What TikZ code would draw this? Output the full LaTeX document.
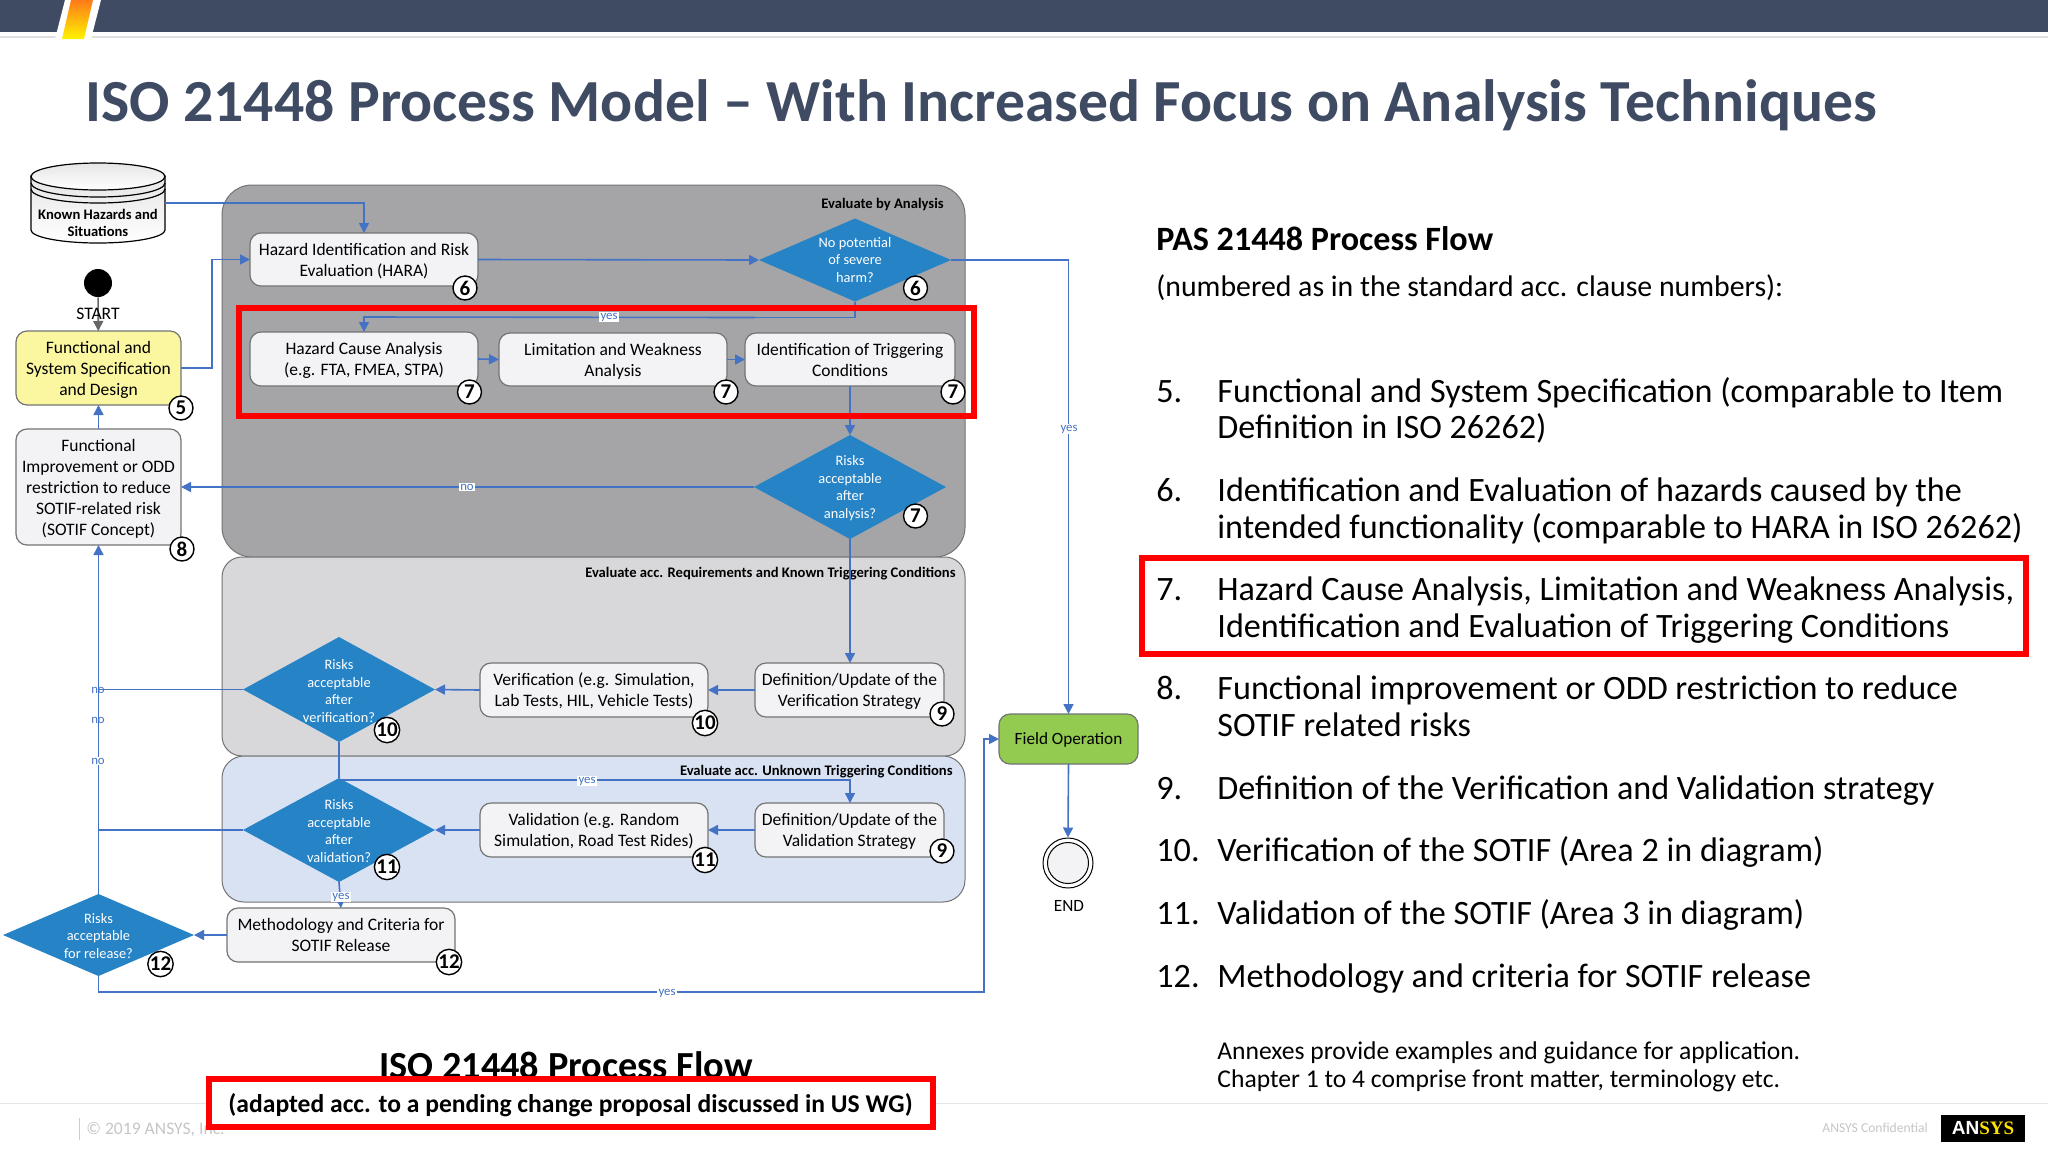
\documentclass[tikz,border=0pt]{standalone}
\usepackage{fontspec}
\setmainfont{Carlito}
\newfontfamily\lsans{Liberation Sans}
\newfontfamily\lserif{Liberation Serif}
\usetikzlibrary{arrows.meta,shapes.geometric,calc}
\definecolor{barblue}{HTML}{3F4B63}
\definecolor{link}{HTML}{4472C4}
\definecolor{dia}{HTML}{2683C6}
\definecolor{pone}{HTML}{A5A5A7}
\definecolor{ptwo}{HTML}{D8D8DA}
\definecolor{pthree}{HTML}{D9E2F3}
\definecolor{boxfill}{HTML}{F3F3F6}
\definecolor{specfill}{HTML}{FBF7A0}
\definecolor{fieldfill}{HTML}{92CB4F}
\definecolor{rgrey}{HTML}{C6C6C6}
\newcommand{\fs}[2]{\fontsize{#1}{#2}\selectfont}
\newcommand{\bx}[7]{\node[#6,minimum width={(#4-#2)*0.5pt},minimum height={(#5-#3)*0.5pt}] (#1) at ({(#2+#4)/2},{(#3+#5)/2}) {#7};}
\newcommand{\lst}[3]{\node[listtext,anchor=north west] (n#2) at (1156,#1) {\strut #2};
  \node[listtext,anchor=north west] (t#2) at (1217,#1) {#3};}
\tikzset{
  x=0.5pt,y=-0.5pt,
  panel/.style={draw=black!55,line width=0.5pt,inner sep=0,outer sep=0},
  pbox/.style={rectangle,rounded corners=5.5pt,draw=black!55,line width=0.6pt,fill=boxfill,align=center,inner sep=0,outer sep=0,text depth=0pt,font=\fs{8.75}{10.5}},
  specbox/.style={pbox,fill=specfill},
  fieldbox/.style={pbox,fill=fieldfill,font=\fs{8.6}{10.5}},
  diam/.style={diamond,fill=dia,draw=none,inner sep=0,outer sep=0},
  dtext/.style={text=white,align=center,inner sep=0,font=\fs{7.2}{8.75}},
  num/.style={circle,draw=black,line width=0.7pt,fill=white,minimum size=12pt,inner sep=0,font=\bfseries\fs{10.5}{10.5}},
  conn/.style={draw=link,line width=0.8pt,-{Triangle[length=5pt,width=5pt]}},
  plain/.style={draw=link,line width=0.8pt},
  lab/.style={text=link,inner sep=0.6pt,font=\fs{6.4}{6.4}},
  lwhite/.style={lab,fill=white},
  ptitle/.style={inner sep=0,font=\bfseries\fs{7.3}{8}},
  redbox/.style={draw=red,line width=3pt},
  listtext/.style={align=left,inner sep=0,font=\fs{17.07}{18.3}},
  annex/.style={align=left,inner sep=0,font=\fs{12.8}{14}},
}
\begin{document}
\begin{tikzpicture}
\useasboundingbox (0,0) rectangle (2048,1152);
\fill[white] (0,0) rectangle (2048,1152);
% header bar
\fill[barblue] (0,0) rectangle (2048,32);
\fill[black!12] (0,36) rectangle (2048,38);
\fill[white] (65,0) -- (101,0) -- (91,39) -- (55,39) -- cycle;
\shade[top color=orange!85!red!90,bottom color=yellow!90!orange] (71,0) -- (93,0) -- (84,39) -- (62,39) -- cycle;
\node[anchor=base west,inner sep=0,text=barblue,font=\bfseries\fs{29.85}{32}] (title) at (85,121) {ISO 21448 Process Model -- With Increased Focus on Analysis Techniques};
% footer
\draw[black!10,line width=0.6pt] (0,1103.5) -- (2048,1103.5);
\draw[black!20,line width=0.5pt] (79,1118) -- (79,1140);
\node[anchor=west,inner sep=0,text=rgrey,font=\fs{8.8}{10}] (copy) at (86,1130) {© 2019 ANSYS, Inc.};
\node[anchor=west,inner sep=0,text=rgrey,font=\fs{6.8}{8}] (conf) at (1822,1128) {ANSYS Confidential};
\bx{logo}{1941}{1115}{2025}{1142}{fill=black,inner sep=0}{\lsans\bfseries\fs{9.5}{10}\textcolor{white}{AN}\textcolor{yellow!85!orange}{\lserif SYS}}
% panels
\draw[panel,fill=pone,rounded corners=15pt] (222,185) rectangle (965,557);
\draw[panel,fill=ptwo,rounded corners=10pt] (222,557) rectangle (965,756);
\draw[panel,fill=pthree,rounded corners=11pt] (222,756) rectangle (965,902);
\node[ptitle,anchor=east] (ptA) at (944,205) {Evaluate by Analysis};
\node[ptitle,anchor=east] (ptB) at (956,574) {Evaluate acc. Requirements and Known Triggering Conditions};
\node[ptitle,anchor=east] (ptC) at (953,772) {Evaluate acc. Unknown Triggering Conditions};
% known hazards
\shade[top color=black!10,bottom color=white,draw=black,line width=0.6pt]
  (31,176) -- (31,230) arc[start angle=180,end angle=0,x radius=67,y radius=13] -- (165,176) -- cycle;
\fill[white] (98,176) ellipse[x radius=67,y radius=13.5];
\shade[top color=black!10,bottom color=white,draw=black,line width=0.6pt] (98,176.5) ellipse[x radius=67,y radius=13.5];
\draw[black,line width=0.6pt] (31,183) arc[start angle=180,end angle=0,x radius=67,y radius=14];
\draw[black,line width=0.6pt] (31,189) arc[start angle=180,end angle=0,x radius=67,y radius=14];
\node[inner sep=0,minimum width=67pt,minimum height=40pt] (kh) at (98,203) {};
\node[inner sep=0,align=center,font=\bfseries\fs{7.3}{8.75}] (khtext) at (98,223) {Known Hazards and\\Situations};
% start
\node[circle,fill=black,minimum size=14pt,inner sep=0] (start) at (98,283) {};
% boxes
\bx{spec}{16}{331}{181}{405}{specbox}{Functional and\\System Specification\\and Design}
\bx{impr}{16}{429}{181}{545}{pbox}{Functional\\Improvement or ODD\\restriction to reduce\\SOTIF-related risk\\(SOTIF Concept)}
\bx{hara}{250}{233}{478}{286}{pbox}{Hazard Identification and Risk\\Evaluation (HARA)}
\bx{hca}{250}{332}{478}{386}{pbox}{Hazard Cause Analysis\\(e.g. FTA, FMEA, STPA)}
\bx{lwa}{499}{333}{727}{386}{pbox}{Limitation and Weakness\\Analysis}
\bx{itc}{745}{333}{955}{386}{pbox}{Identification of Triggering\\Conditions}
\bx{ver}{480}{663}{708}{717}{pbox}{Verification (e.g. Simulation,\\Lab Tests, HIL, Vehicle Tests)}
\bx{dver}{755}{663}{944}{717}{pbox}{Definition/Update of the\\Verification Strategy}
\bx{val}{480}{803}{708}{857}{pbox}{Validation (e.g. Random\\Simulation, Road Test Rides)}
\bx{dval}{755}{803}{944}{857}{pbox}{Definition/Update of the\\Validation Strategy}
\bx{meth}{227}{908}{455}{962}{pbox}{Methodology and Criteria for\\SOTIF Release}
\bx{field}{999}{714}{1138}{764}{fieldbox}{Field Operation}
% diamonds
\node[diam,minimum width=96pt,minimum height=41.5pt] (d6) at (855,260) {};
\node[dtext] (d6t) at (855,260) {No potential\\of severe\\harm?};
\node[diam,minimum width=96pt,minimum height=52pt] (d7) at (850,487) {};
\node[dtext] (d7t) at (850,488) {Risks\\acceptable\\after\\analysis?};
\node[diam,minimum width=96pt,minimum height=52.5pt] (d10) at (339,689.5) {};
\node[dtext] (d10t) at (339,691) {Risks\\acceptable\\after\\verification?};
\node[diam,minimum width=96pt,minimum height=52pt] (d11) at (339,830) {};
\node[dtext] (d11t) at (339,831) {Risks\\acceptable\\after\\validation?};
\node[diam,minimum width=95.5pt,minimum height=41pt] (d12) at (98.5,935) {};
\node[dtext] (d12t) at (98.5,936) {Risks\\acceptable\\for release?};
% end
\node[circle,draw=black,line width=0.5pt,fill=white,minimum size=25pt,inner sep=0] (endo) at (1068,863) {};
\node[circle,draw=black,line width=0.5pt,fill=boxfill,minimum size=20.5pt,inner sep=0] (endi) at (1068,863) {};
\node[inner sep=0,font=\fs{8.6}{9}] (endl) at (1069,906) {END};
% connectors
\draw[draw=black!60,line width=0.8pt,-{Triangle[length=5pt,width=5pt]}] (start) -- (spec);
\node[inner sep=0,font=\fs{8.8}{9}] (startl) at (98,314) {START};
\draw[conn] (kh.east) -| (hara.north);
\draw[conn] (spec.east) -- ++(31,0) |- (hara.west);
\draw[conn] (impr.north) -- (spec.south);
\draw[conn] (hara.east) -- (d6.west);
\draw[plain] (d6.south) |- ++(-100,16) coordinate (yb);
\draw[conn] (yb) -- (364,317) -- (hca.north);
\draw[conn] (hca.east) -- (lwa.west);
\draw[conn] (lwa.east) -- (itc.west);
\draw[conn] (itc.south -| d7.north) -- (d7.north);
\draw[conn] (d7.west) -- (impr.east |- d7.west);
\draw[conn] (d7.south) -- (d7.south |- dver.north);
\draw[conn] (dver.west) -- (ver.east);
\draw[conn] (ver.west) -- (d10.east);
\draw[conn] (dval.west) -- (val.east);
\draw[conn] (val.west) -- (d11.east);
\draw[plain] (d10.south) -- (d11.north);
\draw[conn] (d11.north) ++(0,2) -- (850,780) -- (850,803);
\draw[plain] (d10.west) -- (98,689.5);
\draw[plain] (d11.west) -- (98,830);
\draw[conn] (d12.north) -- (impr.south);
\draw[conn] (d11.south) -- (meth.north);
\draw[conn] (meth.west) -- (d12.east);
\draw[conn] (d12.south) -- (98.5,992) -- (984,992) |- (field.west);
\draw[conn] (d6.east) -| (field.north);
\draw[conn] (field.south) -- (endo.north);
% connector labels
\node[lwhite] (ly1) at (609,317) {yes};
\node[lwhite] (ln1) at (467,487) {no};
\node[lab] (ln2) at (98,690) {no};
\node[lab] (ln3) at (98,720) {no};
\node[lwhite] (ln4) at (98,761) {no};
\node[lwhite] (ly2) at (587,781) {yes};
\node[lwhite] (ly3) at (341,897) {yes};
\node[lwhite] (ly4) at (667,993) {yes};
\node[lwhite] (ly5) at (1069,429) {yes};
% red highlight
\draw[redbox] (239,307.5) rectangle (974,416);
% number badges
\node[num] (c5) at (181,408) {5};
\node[num] (c8) at (182,549) {8};
\node[num] (c6a) at (465,288) {6};
\node[num] (c6b) at (915.5,288) {6};
\node[num] (c7a) at (469.5,392) {7};
\node[num] (c7b) at (726,392) {7};
\node[num] (c7c) at (953,392) {7};
\node[num] (c7d) at (915.5,516) {7};
\node[num] (c9a) at (942,714) {9};
\node[num] (c9b) at (942,851) {9};
\node[num] (c10a) at (705,723) {10};
\node[num] (c10b) at (387,730) {10};
\node[num] (c11a) at (705,860) {11};
\node[num] (c11b) at (387,867) {11};
\node[num] (c12a) at (160.5,964) {12};
\node[num] (c12b) at (449,962) {12};
% bottom caption
\node[inner sep=0,font=\bfseries\fs{19.15}{20}] (cap) at (566,1065) {ISO 21448 Process Flow};
\bx{capbox}{208.5}{1078.5}{932.5}{1126.5}{draw=red,line width=3pt,fill=white,inner sep=0,text depth=0pt,font=\bfseries\fs{12.8}{14}}{(adapted acc. to a pending change proposal discussed in US WG)}
% right text
\node[anchor=base west,inner sep=0,font=\bfseries\fs{17.05}{18}] (rh) at (1156,250) {PAS 21448 Process Flow};
\node[anchor=base west,inner sep=0,font=\fs{14.9}{16}] (rs) at (1156,296) {(numbered as in the standard acc. clause numbers):};
\lst{376}{5.}{\strut Functional and System Specification (comparable to Item\\\strut Definition in ISO 26262)}
\lst{475.5}{6.}{\strut Identification and Evaluation of hazards caused by the\\\strut intended functionality (comparable to HARA in ISO 26262)}
\lst{574.5}{7.}{\strut Hazard Cause Analysis, Limitation and Weakness Analysis,\\\strut Identification and Evaluation of Triggering Conditions}
\lst{673.5}{8.}{\strut Functional improvement or ODD restriction to reduce\\\strut SOTIF related risks}
\lst{773}{9.}{\strut Definition of the Verification and Validation strategy}
\lst{835.5}{10.}{\strut Verification of the SOTIF (Area 2 in diagram)}
\lst{898.5}{11.}{\strut Validation of the SOTIF (Area 3 in diagram)}
\lst{961}{12.}{\strut Methodology and criteria for SOTIF release}
\draw[red,line width=3pt] (1142,558) rectangle (2026,654);
\node[annex,anchor=north west] (ax) at (1217,1039.5) {\strut Annexes provide examples and guidance for application.\\\strut Chapter 1 to 4 comprise front matter, terminology etc.};
\end{tikzpicture}
\end{document}
